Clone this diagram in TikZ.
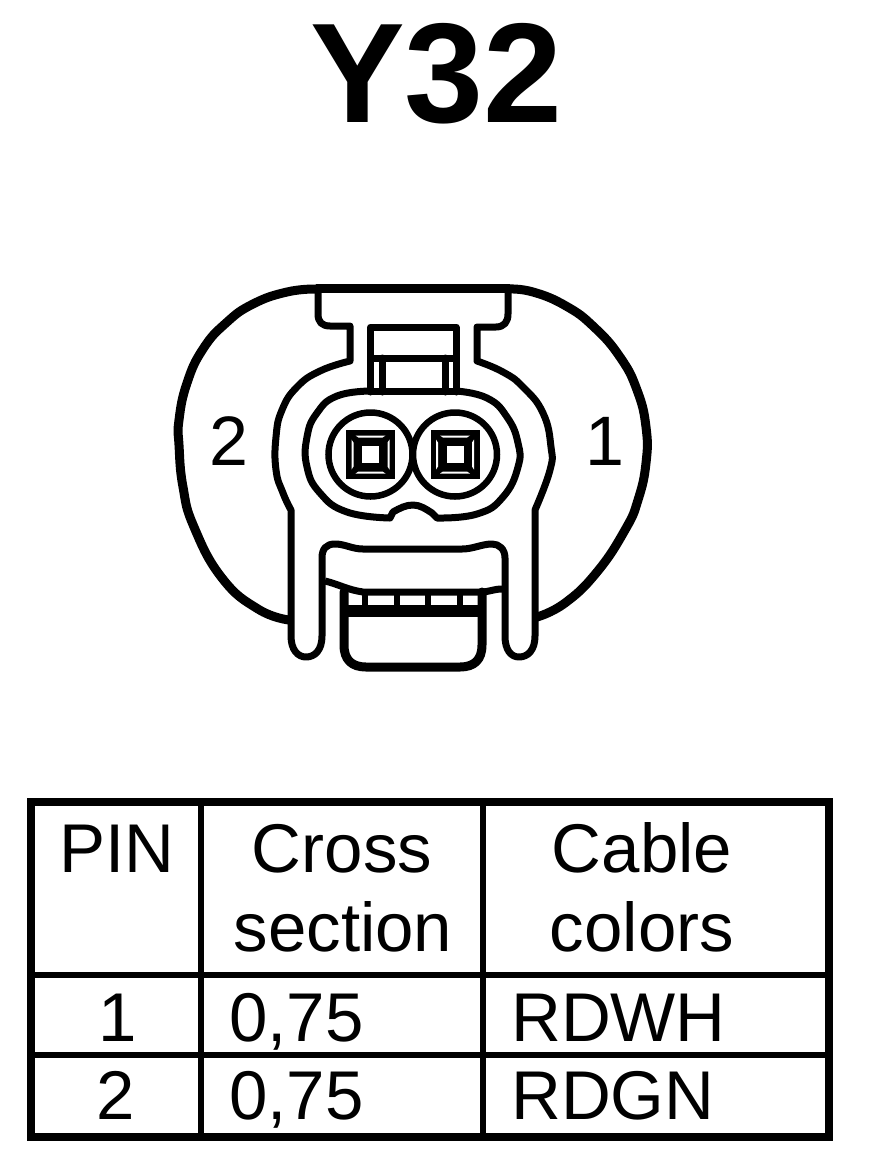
\documentclass[tikz,border=0pt]{standalone}
\usepackage{fontspec}
\setmainfont{Liberation Sans}
\usetikzlibrary{calc}
\tikzset{
  outline/.style={line width=7pt,line join=round,line cap=round},
  heavy/.style={line width=9pt,line join=round,line cap=round},
  tline/.style={line width=6.5pt},
  lbl/.style={font=\fontsize{69}{69}\selectfont,inner sep=0pt,anchor=base},
  lbll/.style={font=\fontsize{69}{69}\selectfont,inner sep=0pt,anchor=base west},
  pinlbl/.style={font=\fontsize{70}{70}\selectfont,inner sep=0pt,anchor=base},
  ttl/.style={font=\fontsize{142}{142}\selectfont\bfseries,inner sep=0pt,anchor=base}
}
\newcommand{\sockt}[2]{%
  \begin{scope}[shift={(#1,#2)}]
    \draw[line width=6.5pt] (0,0) circle (42);
    \fill[black] (-24.5,-24.5) rectangle (24.5,24.5);
    \fill[white] (-8.5,-8.5) rectangle (8.5,8.5);
    \foreach \ang in {0,90,180,270}{
      \fill[white,rotate=\ang] (-15,-19) -- (15,-19) -- (12,-17) -- (-12,-17) -- cycle;
    }
  \end{scope}}
\begin{document}
\begin{tikzpicture}[x=1pt,y=-1pt]
\useasboundingbox (0,0) rectangle (880,1168);
\fill[white] (0,0) rectangle (880,1168);
\node[ttl] (title) at (436.5,122) {Y32};
% housing
\draw[heavy] plot[smooth,tension=0.8] coordinates {(316,289) (287,292) (253,304) (226,323) (203,349) (187,383) (179,420) (179,445) (183,487) (194,527) (222,578) (258,609) (289,620)};
\draw[heavy] plot[smooth,tension=0.8] coordinates {(508,289) (533,292) (566,306) (594,327) (620,357) (637,390) (646,427) (646,463) (638,500) (625,530) (597,572) (565,603) (537,617)};
\draw[line width=9pt] (316,288.5) -- (510,288.5);
% clip body
\draw[outline] (318,290) -- (318,314) .. controls (318,322) and (322,326) .. (330,326) -- (350,326) -- (350,361)
  plot[smooth,tension=0.8] coordinates {(350,361) (320,371) (297,387) (282,410) (276,437) (276,470) (283,493) (291,510)}
  -- (291,636) .. controls (291,650) and (298,657) .. (306,657) .. controls (315,657) and (322,650) .. (322,636)
  -- (322,558) .. controls (322,549) and (326,544) .. (335,544) .. controls (345,544) and (352,549) .. (363,549) -- (462,549) .. controls (473,549) and (482,544) .. (492,544) .. controls (499,544) and (505,549) .. (505,558)
  -- (505,636) .. controls (505,650) and (511,657) .. (519,657) .. controls (528,657) and (535,650) .. (535,636) -- (535,510)
  plot[smooth,tension=0.8] coordinates {(535,510) (550,470) (551,447) (543,413) (523,387) (503,372) (477,361)}
  -- (477,327) -- (496,327) .. controls (504,327) and (508,322) .. (508,314) -- (508,290);
% latch
\draw[outline] (370.5,392) -- (370.5,327) -- (456,327) -- (456,392);
\draw[outline] (370.5,358) -- (456,358);
\draw[outline] (382,358) -- (382,392);
\draw[outline] (445,358) -- (445,392);
% inner body
\draw[outline] plot[smooth,tension=0.8] coordinates {(370,391) (337,396) (317,413) (307,437) (307,467) (320,493) (347,512) (390,518)}
  -- (393,512) .. controls (400,508) and (406,505) .. (413,505) .. controls (420,505) and (426,509) .. (432,513) -- (437,518)
  plot[smooth,tension=0.8] coordinates {(437,518) (477,514) (503,497) (518,467) (518,443) (507,417) (487,398) (456,391)};
\draw[outline] (370,391) -- (456,391);
\sockt{370.5}{454.5}
\sockt{455}{454.5}
% lower lip
\draw[outline,line cap=butt] (325,581) .. controls (338,584) and (348,590) .. (363,592) -- (482,592) .. controls (488,592) and (494,589) .. (502,589);
\draw[heavy] (344,592) -- (344,645) .. controls (344,660) and (352,667) .. (366,667) -- (460,667) .. controls (474,667) and (482,660) .. (482,645) -- (482,592);
\draw[line width=12pt] (344,611) -- (482,611);
\foreach \vx in {365,397,428,460} \draw[line width=6.5pt] (\vx,592) -- (\vx,611);
% numbers
\node[pinlbl] (two) at (229,465) {2};
\node[pinlbl] (one) at (605,465) {1};
% table
\draw[line width=7.5pt] (31,802) rectangle (829,1137);
\draw[tline] (31,975) -- (829,975);
\draw[tline] (31,1055) -- (829,1055);
\draw[tline] (201,802) -- (201,1137);
\draw[tline] (483,802) -- (483,1137);
\node[lbl] (h1) at (117,872) {PIN};
\node[lbl] (h2a) at (342,872) {Cross};
\node[lbl] (h2b) at (343,951) {section};
\node[lbl] (h3a) at (642,872) {Cable};
\node[lbl] (h3b) at (642,951) {colors};
\node[lbl] (r1) at (118,1041) {1};
\node[lbll] (r1b) at (229,1041) {0,75};
\node[lbll] (r1c) at (511,1041) {RDWH};
\node[lbl] (r2) at (116,1119) {2};
\node[lbll] (r2b) at (229,1119) {0,75};
\node[lbll] (r2c) at (511,1119) {RDGN};
\end{tikzpicture}
\end{document}
